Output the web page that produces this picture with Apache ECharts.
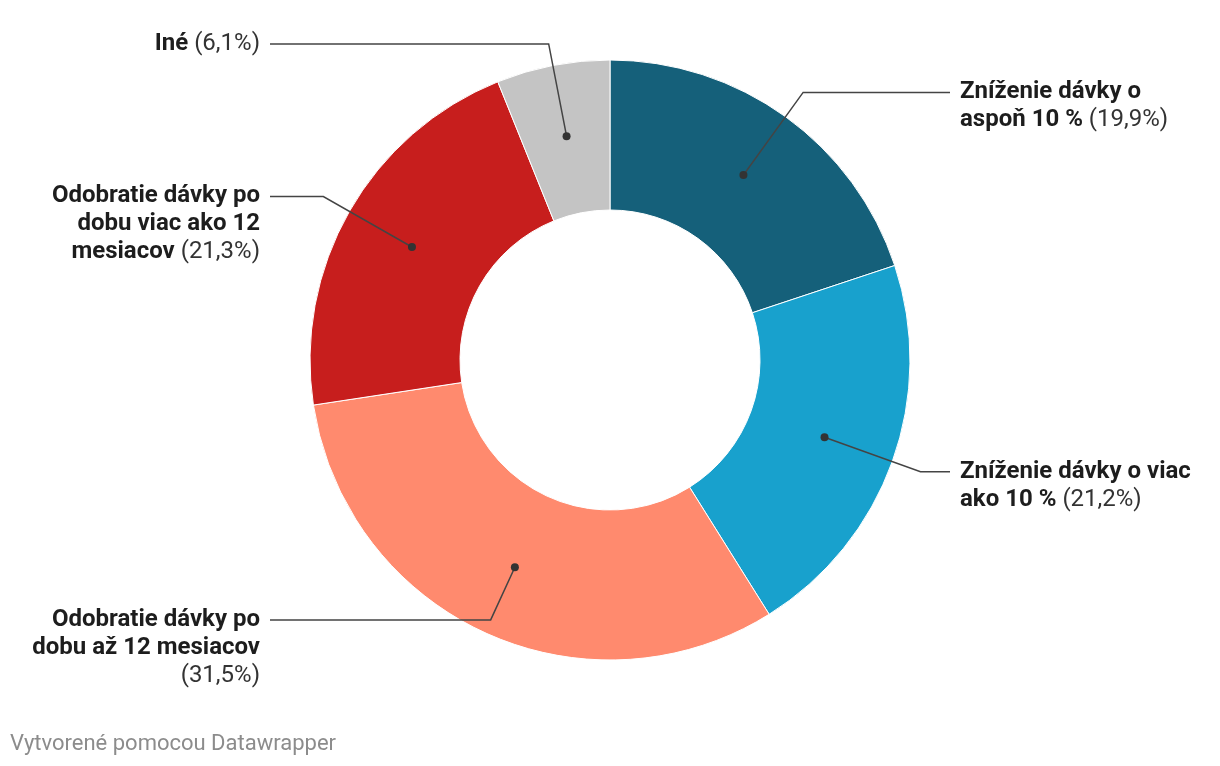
<!DOCTYPE html>
<html>
<head>
<meta charset="utf-8">
<script src="https://cdn.jsdelivr.net/npm/echarts@6/dist/echarts.min.js"></script>
<style>
  html, body { margin: 0; padding: 0; background: #fff; }
  #chart { width: 1220px; height: 766px; }
</style>
</head>
<body>
<div id="chart"></div>
<script>
// ---- data ----
const categories = [
  'Zníženie dávky o\naspoň 10 %',
  'Zníženie dávky o viac\nako 10 %',
  'Odobratie dávky po\ndobu až 12 mesiacov',
  'Odobratie dávky po\ndobu viac ako 12\nmesiacov',
  'Iné'
];
const shares = [19.9, 21.2, 31.5, 21.3, 6.1];
const pctOnNewLine = [false, false, true, false, false];
const footerText = 'Vytvorené pomocou Datawrapper';

// ---- styles ----
const colors = ['#15607a', '#18a1cd', '#ff8a6e', '#c71e1d', '#c4c4c4'];
const CX = 610, CY = 360, R_IN = 150, R_OUT = 300;
const R_MID = (R_IN + R_OUT) / 2;
const leaderLen = [105, 105, 61, 105, 97];      // radial part of leader line
const leaderEndX = [950, 950, 270, 270, 270];    // where horizontal part ends
const LINE_H = 28;
const FONT = 'Roboto';
const FS = 24;

const total = shares.reduce((a, b) => a + b, 0);
let cum = 0;
const midAngle = shares.map(v => { const m = (cum + v / 2) / total; cum += v; return m * 2 * Math.PI; });
const isLeft = midAngle.map(a => a > Math.PI);
const leaderLen2 = midAngle.map((a, i) => Math.abs(leaderEndX[i] - (CX + (R_MID + leaderLen[i]) * Math.sin(a))));
const pctText = shares.map(v => '(' + v.toFixed(1).replace('.', ',') + '%)');

function labelString(i) {
  const side = isLeft[i] ? 'L' : 'R';
  return '{b' + side + '|' + categories[i] + '}' + (pctOnNewLine[i] ? '\n' : '') +
         '{p' + side + '|' + (pctOnNewLine[i] ? '' : ' ') + pctText[i] + '}';
}

const ringData = shares.map((v, i) => ({ name: categories[i], value: v, itemStyle: { color: colors[i] } }));
const leaderData = shares.map((v, i) => {
  const nLines = labelString(i).split('\n').length;
  return {
    name: categories[i], value: v,
    label: { padding: [(nLines - 1) * LINE_H, 0, 0, 0] },
    labelLine: { length: leaderLen[i], length2: leaderLen2[i] }
  };
});

const chart = echarts.init(document.getElementById('chart'), null, { renderer: 'canvas' });
chart.setOption({
  animation: false,
  title: {
    text: footerText,
    left: 10, top: 733, padding: 0,
    textStyle: { fontFamily: FONT, fontSize: 22, fontWeight: 'normal', color: '#8c8c8c' }
  },
  series: [
    {
      type: 'pie',
      z: 2,
      center: [CX, CY],
      radius: [R_IN, R_OUT],
      startAngle: 90,
      clockwise: true,
      silent: true,
      avoidLabelOverlap: false,
      itemStyle: { borderColor: '#ffffff', borderWidth: 1 },
      label: { show: false },
      labelLine: { show: false },
      emphasis: { disabled: true },
      data: ringData
    },
    {
      type: 'pie',
      z: 3,
      center: [CX, CY],
      radius: [0, R_MID],
      startAngle: 90,
      clockwise: true,
      silent: true,
      itemStyle: { color: 'rgba(0,0,0,0)', borderWidth: 0 },
      emphasis: { disabled: true },
      label: {
        show: true,
        position: 'outside',
        alignTo: 'none',
        edgeDistance: 0,
        distanceToLabelLine: 10,
        formatter: p => labelString(p.dataIndex),
        rich: {
          bR: { fontFamily: FONT, fontSize: FS, fontWeight: 'bold', color: '#1d1d1d', lineHeight: LINE_H, align: 'left' },
          pR: { fontFamily: FONT, fontSize: FS, fontWeight: 'normal', color: '#333333', lineHeight: LINE_H, align: 'left' },
          bL: { fontFamily: FONT, fontSize: FS, fontWeight: 'bold', color: '#1d1d1d', lineHeight: LINE_H, align: 'right' },
          pL: { fontFamily: FONT, fontSize: FS, fontWeight: 'normal', color: '#333333', lineHeight: LINE_H, align: 'right' }
        }
      },
      labelLine: { show: true, smooth: false, lineStyle: { color: '#444444', width: 1.5 } },
      data: leaderData
    },
    {
      type: 'pie',
      z: 4,
      center: [CX, CY],
      radius: [R_IN, R_OUT],
      startAngle: 90,
      clockwise: true,
      silent: true,
      avoidLabelOverlap: false,
      itemStyle: { color: 'rgba(0,0,0,0)', borderWidth: 0 },
      label: {
        show: true,
        position: 'inside',
        formatter: '{d| }',
        rich: { d: { width: 8, height: 8, borderRadius: 4, backgroundColor: '#333333', fontSize: 1, lineHeight: 8 } }
      },
      labelLine: { show: false },
      emphasis: { disabled: true },
      data: shares.map((v, i) => ({ name: categories[i], value: v }))
    }
  ]
});
</script>
</body>
</html>
